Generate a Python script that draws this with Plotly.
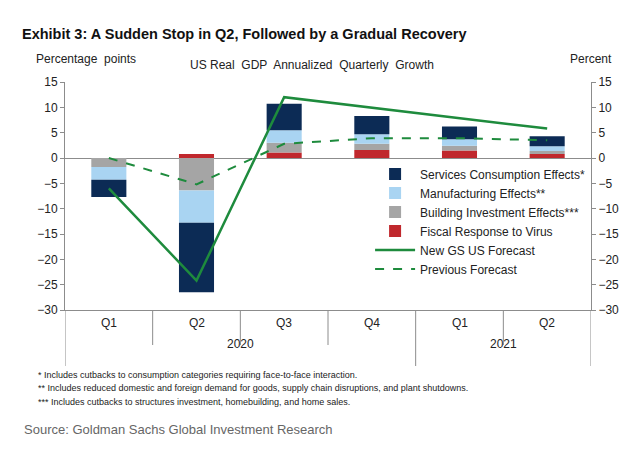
import plotly.graph_objects as go

quarters = ['Q1', 'Q2', 'Q3', 'Q4', 'Q1 ', 'Q2 ']
quarter_labels = ['Q1', 'Q2', 'Q3', 'Q4', 'Q1', 'Q2']
years = ['2020', '2021']

fiscal = [0, 0.8, 1.1, 1.6, 1.5, 0.8]
building = [-1.8, -6.4, 1.9, 1.2, 0.9, 0.6]
manufacturing = [-2.5, -6.4, 2.5, 1.9, 1.3, 0.9]
services = [-3.4, -13.7, 5.2, 3.6, 2.5, 2.0]
new_forecast = [-6.0, -24.2, 12.0, 9.9, 7.9, 5.8]
prev_forecast = [0, -5.2, 2.8, 3.9, 3.9, 3.5]

FONT = 'Liberation Sans, Arial, sans-serif'
x = list(range(len(quarters)))

fig = go.Figure()
bar_specs = [
    ('Fiscal Response to Virus', fiscal, '#c0282d', 4),
    ('Building Investment Effects***', building, '#a5a5a5', 3),
    ('Manufacturing Effects**', manufacturing, '#a9d4f2', 2),
    ('Services Consumption Effects*', services, '#0c2b55', 1),
]
for name, vals, col, rank in bar_specs:
    fig.add_trace(go.Bar(x=x, y=vals, name=name, marker_color=col, width=0.4,
                         marker_line_width=0, legendrank=rank))

fig.add_trace(go.Scatter(x=x, y=new_forecast, mode='lines', name='New GS US Forecast',
                         line=dict(color='#1e8b3d', width=2.5), legendrank=5))
fig.add_trace(go.Scatter(x=x, y=prev_forecast, mode='lines', name='Previous Forecast',
                         line=dict(color='#1e8b3d', width=2, dash='dash'), legendrank=6))
# invisible trace to show right axis
fig.add_trace(go.Scatter(x=x, y=prev_forecast, yaxis='y2', mode='lines',
                         line=dict(width=0), showlegend=False, hoverinfo='skip'))

# plot area in pixels: x 57..583, y 74..302
def px(p):
    return (p - 57) / 526.0

def py(p):
    return (302 - p) / 228.0

shapes = []
for b in [0.5, 1.5, 2.5, 4.5]:
    shapes.append(dict(type='line', xref='x', yref='paper', x0=b, x1=b, y0=0, y1=py(337),
                       line=dict(color='#8c8c8c', width=1)))
for b in [-0.5, 3.5, 5.5]:
    shapes.append(dict(type='line', xref='x', yref='paper', x0=b, x1=b, y0=0, y1=py(358),
                       line=dict(color='#8c8c8c', width=1)))

annotations = []
for i, q in enumerate(quarter_labels):
    annotations.append(dict(x=i, y=py(324), xref='x', yref='paper', text=q, showarrow=False,
                            font=dict(size=12, color='#222')))
annotations.append(dict(x=1.5, y=py(345), xref='x', yref='paper', text=years[0], showarrow=False,
                        font=dict(size=12, color='#222')))
annotations.append(dict(x=4.5, y=py(345), xref='x', yref='paper', text=years[1], showarrow=False,
                        font=dict(size=12, color='#222')))

def txt(xp, yp, text, size, color='#222', bold=False):
    annotations.append(dict(x=px(xp), y=py(yp), xref='paper', yref='paper',
                            text=f'<b>{text}</b>' if bold else text, showarrow=False,
                            xanchor='left', yanchor='middle',
                            font=dict(size=size, color=color, family=FONT)))

txt(12, 26, 'Exhibit 3: A Sudden Stop in Q2, Followed by a Gradual Recovery', 14.5, '#111', bold=True)
txt(26, 51, 'Percentage  points', 12)
txt(180, 57, 'US Real  GDP  Annualized  Quarterly  Growth', 12)
txt(560, 51, 'Percent', 12)
txt(28, 367, '* Includes cutbacks to consumption categories requiring face-to-face interaction.', 9)
txt(28, 380, '** Includes reduced domestic and foreign demand for goods, supply chain disruptions, and plant shutdowns.', 9)
txt(28, 394, '*** Includes cutbacks to structures investment, homebuilding, and home sales.', 9)
txt(14, 421, 'Source: Goldman Sachs Global Investment Research', 13, '#666')

axis_common = dict(range=[-30, 15], dtick=5, showgrid=False, zeroline=True, zerolinecolor='#8c8c8c',
                   zerolinewidth=1, showline=True, linecolor='#8c8c8c', ticks='outside',
                   ticklen=4, tickcolor='#8c8c8c', tickfont=dict(size=12, color='#222'))

fig.update_layout(
    width=640, height=450,
    margin=dict(l=57, r=57, t=74, b=148),
    paper_bgcolor='white', plot_bgcolor='white',
    font=dict(family=FONT, color='#222'),
    barmode='relative',
    xaxis=dict(range=[-0.5, 5.5], showticklabels=False, showgrid=False, zeroline=False,
               showline=True, linecolor='#8c8c8c', ticks=''),
    yaxis=dict(**axis_common),
    yaxis2=dict(**axis_common, overlaying='y', side='right'),
    legend=dict(x=0.58, y=0.66, xanchor='left', yanchor='top', bgcolor='rgba(0,0,0,0)',
                font=dict(size=12, color='#222'), tracegroupgap=0, itemwidth=40,
                traceorder='normal'),
    showlegend=True,
    shapes=shapes, annotations=annotations,
)

fig.write_html('out.html')
